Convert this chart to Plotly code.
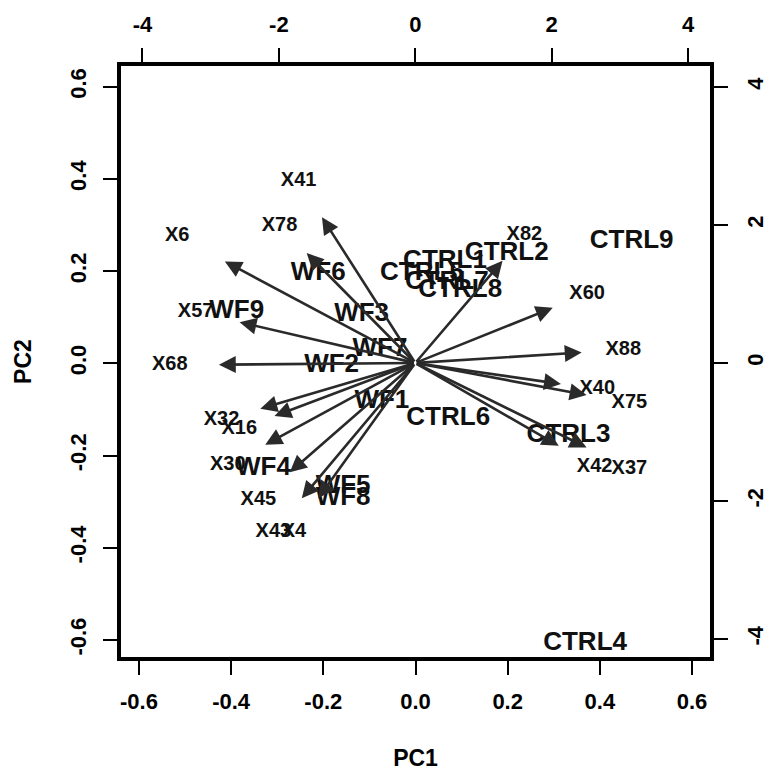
import plotly.graph_objects as go

# Observations (scores) - plotted on bottom/left axes
obs_labels = ["WF1", "WF2", "WF3", "WF4", "WF5", "WF6", "WF7", "WF8", "WF9",
              "CTRL1", "CTRL2", "CTRL3", "CTRL4", "CTRL5", "CTRL6", "CTRL7", "CTRL8", "CTRL9"]
obs_pc1 = [-0.073, -0.182, -0.117, -0.330, -0.157, -0.211, -0.077, -0.157, -0.388,
           0.064, 0.198, 0.332, 0.368, 0.014, 0.071, 0.068, 0.097, 0.469]
obs_pc2 = [-0.083, -0.004, 0.105, -0.228, -0.268, 0.195, 0.029, -0.293, 0.112,
           0.220, 0.239, -0.156, -0.607, 0.194, -0.119, 0.176, 0.159, 0.264]

# Variables (loadings) - plotted on top/right axes
var_labels = ["X41", "X78", "X6", "X57", "X68", "X32", "X16", "X30", "X45", "X43", "X4",
              "X82", "X60", "X88", "X40", "X75", "X42", "X37"]
var_pc1 = [-1.71, -1.99, -3.49, -3.22, -3.60, -2.84, -2.58, -2.75, -2.30, -2.08, -1.78,
           1.60, 2.52, 3.05, 2.67, 3.14, 2.63, 3.14]
var_pc2 = [2.64, 1.99, 1.84, 0.74, -0.03, -0.83, -0.96, -1.48, -1.98, -2.45, -2.45,
           1.85, 1.00, 0.19, -0.38, -0.58, -1.50, -1.53]

bottom_ticks = [-0.6, -0.4, -0.2, 0.0, 0.2, 0.4, 0.6]
left_ticks = [-0.6, -0.4, -0.2, 0.0, 0.2, 0.4, 0.6]
top_ticks = [-4, -2, 0, 2, 4]
right_ticks = [-4, -2, 0, 2, 4]

ARROW_FRAC = 0.8  # R biplot draws arrows to 0.8 of the loading position
FONT = "Liberation Sans, Arial, sans-serif"
TXT = "#111111"
ARR = "#2a2a2a"

fig = go.Figure()

fig.add_trace(go.Scatter(
    x=obs_pc1, y=obs_pc2, mode="text", text=obs_labels,
    textfont=dict(family=FONT, size=26, color=TXT, weight="bold"),
    xaxis="x", yaxis="y", hoverinfo="text", showlegend=False,
))

fig.add_trace(go.Scatter(
    x=var_pc1, y=var_pc2, mode="text", text=var_labels,
    textfont=dict(family=FONT, size=20, color=TXT, weight="bold"),
    xaxis="x2", yaxis="y2", hoverinfo="text", showlegend=False,
))

annotations = []
for vx, vy in zip(var_pc1, var_pc2):
    annotations.append(dict(
        x=vx * ARROW_FRAC, y=vy * ARROW_FRAC, ax=0, ay=0,
        xref="x2", yref="y2", axref="x2", ayref="y2",
        text="", showarrow=True, arrowhead=2, arrowsize=1.3,
        arrowwidth=2.6, arrowcolor=ARR, standoff=0,
    ))

tickfont = dict(family=FONT, size=22, color="black", weight="bold")
titlefont = dict(family=FONT, size=23, color="black", weight="bold")

common = dict(showgrid=False, zeroline=False, showline=True, linewidth=4,
              linecolor="black", ticks="outside", ticklen=14, tickwidth=2,
              tickcolor="black", tickfont=tickfont, mirror=False, automargin=False)

fig.update_layout(
    width=775, height=776,
    margin=dict(l=121, r=65, t=66, b=119),
    paper_bgcolor="white", plot_bgcolor="white",
    showlegend=False,
    annotations=annotations,
    xaxis=dict(range=[-0.639, 0.639], tickvals=bottom_ticks,
               ticktext=[f"{v:.1f}" for v in bottom_ticks],
               title=dict(text="PC1", font=titlefont, standoff=37),
               ticklabelstandoff=8, **common),
    yaxis=dict(range=[-0.637, 0.645], tickvals=left_ticks,
               ticktext=[f"{v:.1f}" for v in left_ticks], tickangle=-90,
               title=dict(text="PC2", font=titlefont, standoff=29),
               ticklabelstandoff=8, **common),
    xaxis2=dict(range=[-4.315, 4.322], tickvals=top_ticks,
                ticktext=[str(v) for v in top_ticks],
                overlaying="x", side="top", anchor="y",
                ticklabelstandoff=7, **common),
    yaxis2=dict(range=[-4.26, 4.303], tickvals=right_ticks,
                ticktext=[str(v) for v in right_ticks], tickangle=-90,
                overlaying="y", side="right", anchor="x",
                ticklabelstandoff=9, **common),
)

fig.write_html("out.html", config={"displayModeBar": False},
               post_script="document.body.style.margin='0px';")
